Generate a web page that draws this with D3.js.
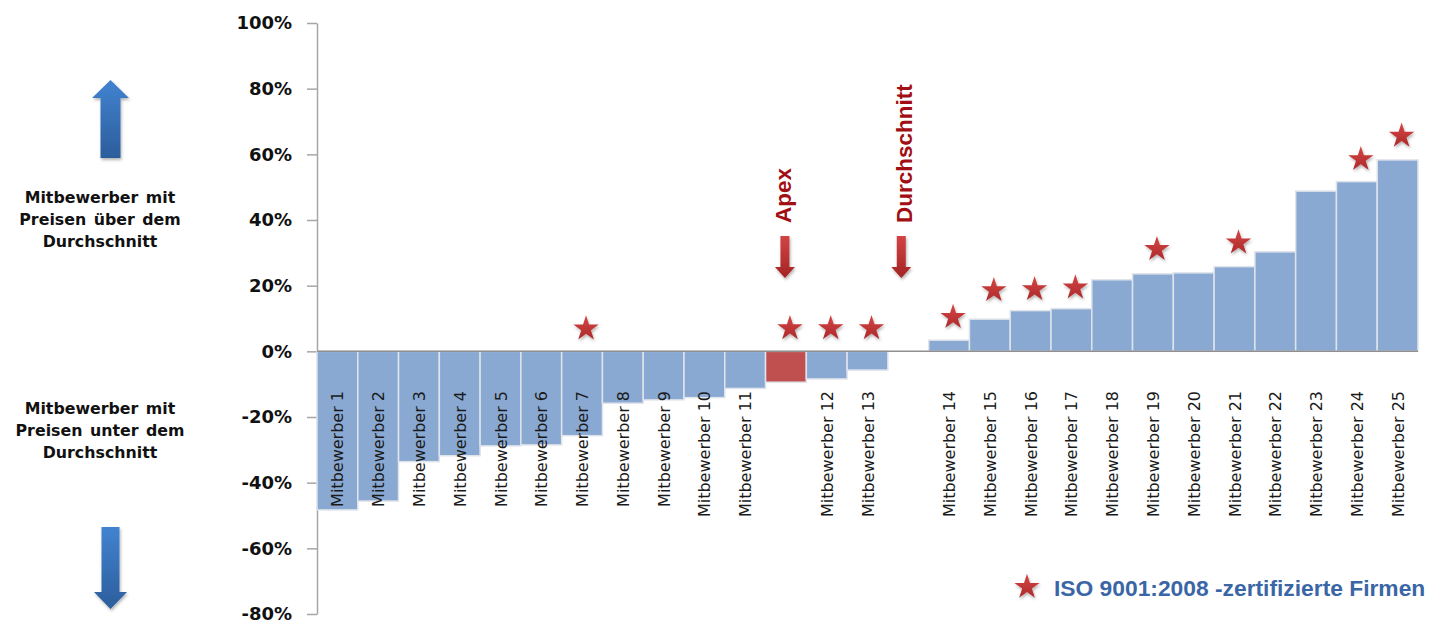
<!DOCTYPE html>
<html>
<head>
<meta charset="utf-8">
<script src="https://cdn.jsdelivr.net/npm/d3@7"></script>
<style>
  body { margin: 0; background: #fff; }
  svg { display: block; }
</style>
</head>
<body>
<svg id="svg"></svg>
<script>
////////////////////////////////////////////////////////////////////////
// Data (percent above / below the average price)

let categories = ["Mitbewerber 1", "Mitbewerber 2", "Mitbewerber 3", "Mitbewerber 4",
                  "Mitbewerber 5", "Mitbewerber 6", "Mitbewerber 7", "Mitbewerber 8",
                  "Mitbewerber 9", "Mitbewerber 10", "Mitbewerber 11", "Apex",
                  "Mitbewerber 12", "Mitbewerber 13", "Durchschnitt", "Mitbewerber 14",
                  "Mitbewerber 15", "Mitbewerber 16", "Mitbewerber 17", "Mitbewerber 18",
                  "Mitbewerber 19", "Mitbewerber 20", "Mitbewerber 21", "Mitbewerber 22",
                  "Mitbewerber 23", "Mitbewerber 24", "Mitbewerber 25"];

let values = [-48.3, -45.6, -33.6, -31.8, -28.8, -28.5, -25.7, -15.8, -14.8, -14.1, -11.3,
              -9.4, -8.4, -5.7, null, 3.4, 9.8, 12.4, 13.0, 21.8, 23.6, 23.9, 25.8, 30.3,
              48.8, 51.7, 58.3];

// ISO 9001:2008 marker series (null = not certified)
let stars = [null, null, null, null, null, null, 7.2, null, null, null, null,
             7.3, 7.3, 7.3, null, 10.7, 18.9, 19.2, 19.7, null, 31.4, null, 33.4, null,
             null, 58.8, 65.9];

// the two slots that carry an annotation instead of an axis label
let highlights = ["Apex", "Durchschnitt"];

let yTicks = [-80, -60, -40, -20, 0, 20, 40, 60, 80, 100];

let upperNote = ["Mitbewerber mit", "Preisen über dem", "Durchschnitt"];
let lowerNote = ["Mitbewerber mit", "Preisen unter dem", "Durchschnitt"];
let legendText = "ISO 9001:2008 -zertifizierte Firmen";


////////////////////////////////////////////////////////////////////////
// Setup

let width = 1444, height = 623;

let svg = d3.select("#svg")
            .attr("width", width)
            .attr("height", height);

let x = d3.scaleBand()
          .domain(categories)
          .range([317, 1418])
          .padding(0);

let y = d3.scaleLinear()
          .domain([-80, 100])
          .range([614, 23]);

let defs = svg.append("defs");

function vGradient(id, top, bottom) {
  let g = defs.append("linearGradient")
              .attr("id", id)
              .attr("x1", 0).attr("y1", 0)
              .attr("x2", 0).attr("y2", 1);
  g.append("stop").attr("offset", "0%").attr("stop-color", top);
  g.append("stop").attr("offset", "100%").attr("stop-color", bottom);
}
vGradient("blueArrow", "#4283d0", "#2c5d9c");
vGradient("redArrow", "#d24444", "#a32424");
vGradient("starFill", "#d64545", "#ac2a2a");

let shadow = defs.append("filter")
                 .attr("id", "shadow")
                 .attr("x", "-30%").attr("y", "-30%")
                 .attr("width", "160%").attr("height", "160%");
shadow.append("feDropShadow")
      .attr("dx", 1).attr("dy", 2)
      .attr("stdDeviation", 1.5)
      .attr("flood-color", "#000")
      .attr("flood-opacity", 0.3);


////////////////////////////////////////////////////////////////////////
// Axis

let yAxis = d3.axisLeft(y)
              .tickValues(yTicks)
              .tickSize(10)
              .tickSizeOuter(0)
              .tickPadding(15)
              .tickFormat(function(d) { return d + "%"; });

let gAxis = svg.append("g")
               .attr("transform", "translate(317,0)")
               .call(yAxis);

gAxis.select(".domain").attr("stroke", "#a6a6a6").attr("stroke-width", 1.5);
gAxis.selectAll(".tick line").attr("stroke", "#a6a6a6").attr("stroke-width", 1.5);
gAxis.selectAll(".tick text")
     .attr("fill", "#111")
     .attr("font-family", "DejaVu Sans")
     .attr("font-weight", "bold")
     .attr("font-size", 18);


////////////////////////////////////////////////////////////////////////
// Bars

let barData = categories.map(function(c, i) {
  return { name: c, value: values[i], star: stars[i] };
});

svg.append("g")
   .selectAll("rect")
   .data(barData.filter(function(d) { return d.value !== null; }))
   .enter()
   .append("rect")
   .attr("x", function(d) { return x(d.name); })
   .attr("width", x.bandwidth())
   .attr("y", function(d) { return Math.min(y(d.value), y(0)); })
   .attr("height", function(d) { return Math.abs(y(d.value) - y(0)); })
   .attr("fill", function(d) { return d.name == "Apex" ? "#c0504f" : "#89a9d3"; })
   .attr("stroke", "#dfe3ea")
   .attr("stroke-width", 1.5);

// zero line
svg.append("line")
   .attr("x1", 317).attr("x2", 1418)
   .attr("y1", y(0)).attr("y2", y(0))
   .attr("stroke", "#8f8f8f")
   .attr("stroke-width", 1.5);

// category labels, rotated, end aligned just below the zero line
svg.append("g")
   .selectAll("text")
   .data(barData.filter(function(d) { return highlights.indexOf(d.name) < 0; }))
   .enter()
   .append("text")
   .attr("transform", function(d) {
     return "translate(" + (x(d.name) + x.bandwidth() / 2 + 6) + "," + 391 + ") rotate(-90)";
   })
   .attr("text-anchor", "end")
   .attr("font-family", "DejaVu Sans")
   .attr("font-size", 16)
   .attr("fill", "#1a1a1a")
   .text(function(d) { return d.name; });


////////////////////////////////////////////////////////////////////////
// Stars

let starPath = d3.symbol().type(d3.symbolStar).size(200);

svg.append("g")
   .selectAll("path")
   .data(barData.filter(function(d) { return d.star !== null; }))
   .enter()
   .append("path")
   .attr("d", starPath)
   .attr("transform", function(d) {
     return "translate(" + (x(d.name) + x.bandwidth() / 2 + 4) + "," + (y(d.star) + 1) + ")";
   })
   .attr("fill", "url(#starFill)")
   .attr("filter", "url(#shadow)");


////////////////////////////////////////////////////////////////////////
// Annotations: Apex and Durchschnitt

function downArrow(cx, top, tip, shaft, head, headLen, fill) {
  let hs = shaft / 2, hh = head / 2;
  let p = [[cx - hs, top], [cx + hs, top], [cx + hs, tip - headLen], [cx + hh, tip - headLen],
           [cx, tip], [cx - hh, tip - headLen], [cx - hs, tip - headLen]];
  svg.append("path")
     .attr("d", d3.line()(p) + "Z")
     .attr("fill", fill)
     .attr("filter", "url(#shadow)");
}

function upArrow(cx, top, bottom, shaft, head, headLen, fill) {
  let hs = shaft / 2, hh = head / 2;
  let p = [[cx, top], [cx + hh, top + headLen], [cx + hs, top + headLen], [cx + hs, bottom],
           [cx - hs, bottom], [cx - hs, top + headLen], [cx - hh, top + headLen]];
  svg.append("path")
     .attr("d", d3.line()(p) + "Z")
     .attr("fill", fill)
     .attr("filter", "url(#shadow)");
}

let annot = [
  { name: "Apex", dxText: 5, dxArrow: -1 },
  { name: "Durchschnitt", dxText: 4, dxArrow: -7 }
];

annot.forEach(function(a) {
  let cx = x(a.name) + x.bandwidth() / 2;
  svg.append("text")
     .attr("transform", "translate(" + (cx + a.dxText) + ",223) rotate(-90)")
     .attr("text-anchor", "start")
     .attr("font-family", "Liberation Sans, Arial, sans-serif")
     .attr("font-weight", "bold")
     .attr("font-size", 22.5)
     .attr("fill", "#a10f14")
     .text(a.name);
  downArrow(cx + a.dxArrow, 236, 278, 9, 20, 11, "url(#redArrow)");
});


////////////////////////////////////////////////////////////////////////
// Side notes and blue arrows

upArrow(110.5, 80, 158, 20, 37, 18, "url(#blueArrow)");
downArrow(110.5, 527, 609, 18, 33, 17, "url(#blueArrow)");

function note(lines, baseline) {
  svg.append("text")
     .attr("font-family", "DejaVu Sans")
     .attr("font-weight", "bold")
     .attr("font-size", 15.8)
     .attr("word-spacing", 2)
     .attr("fill", "#111")
     .attr("text-anchor", "middle")
     .selectAll("tspan")
     .data(lines)
     .enter()
     .append("tspan")
     .attr("x", 100)
     .attr("y", function(d, i) { return baseline + i * 21.8; })
     .text(function(d) { return d; });
}
note(upperNote, 203);
note(lowerNote, 414);


////////////////////////////////////////////////////////////////////////
// Legend

svg.append("path")
   .attr("d", starPath)
   .attr("transform", "translate(1027,587)")
   .attr("fill", "url(#starFill)")
   .attr("filter", "url(#shadow)");

svg.append("text")
   .attr("x", 1054)
   .attr("y", 596)
   .attr("font-family", "Liberation Sans, Arial, sans-serif")
   .attr("font-weight", "bold")
   .attr("font-size", 22.8)
   .attr("fill", "#3a66a6")
   .text(legendText);
</script>
</body>
</html>
